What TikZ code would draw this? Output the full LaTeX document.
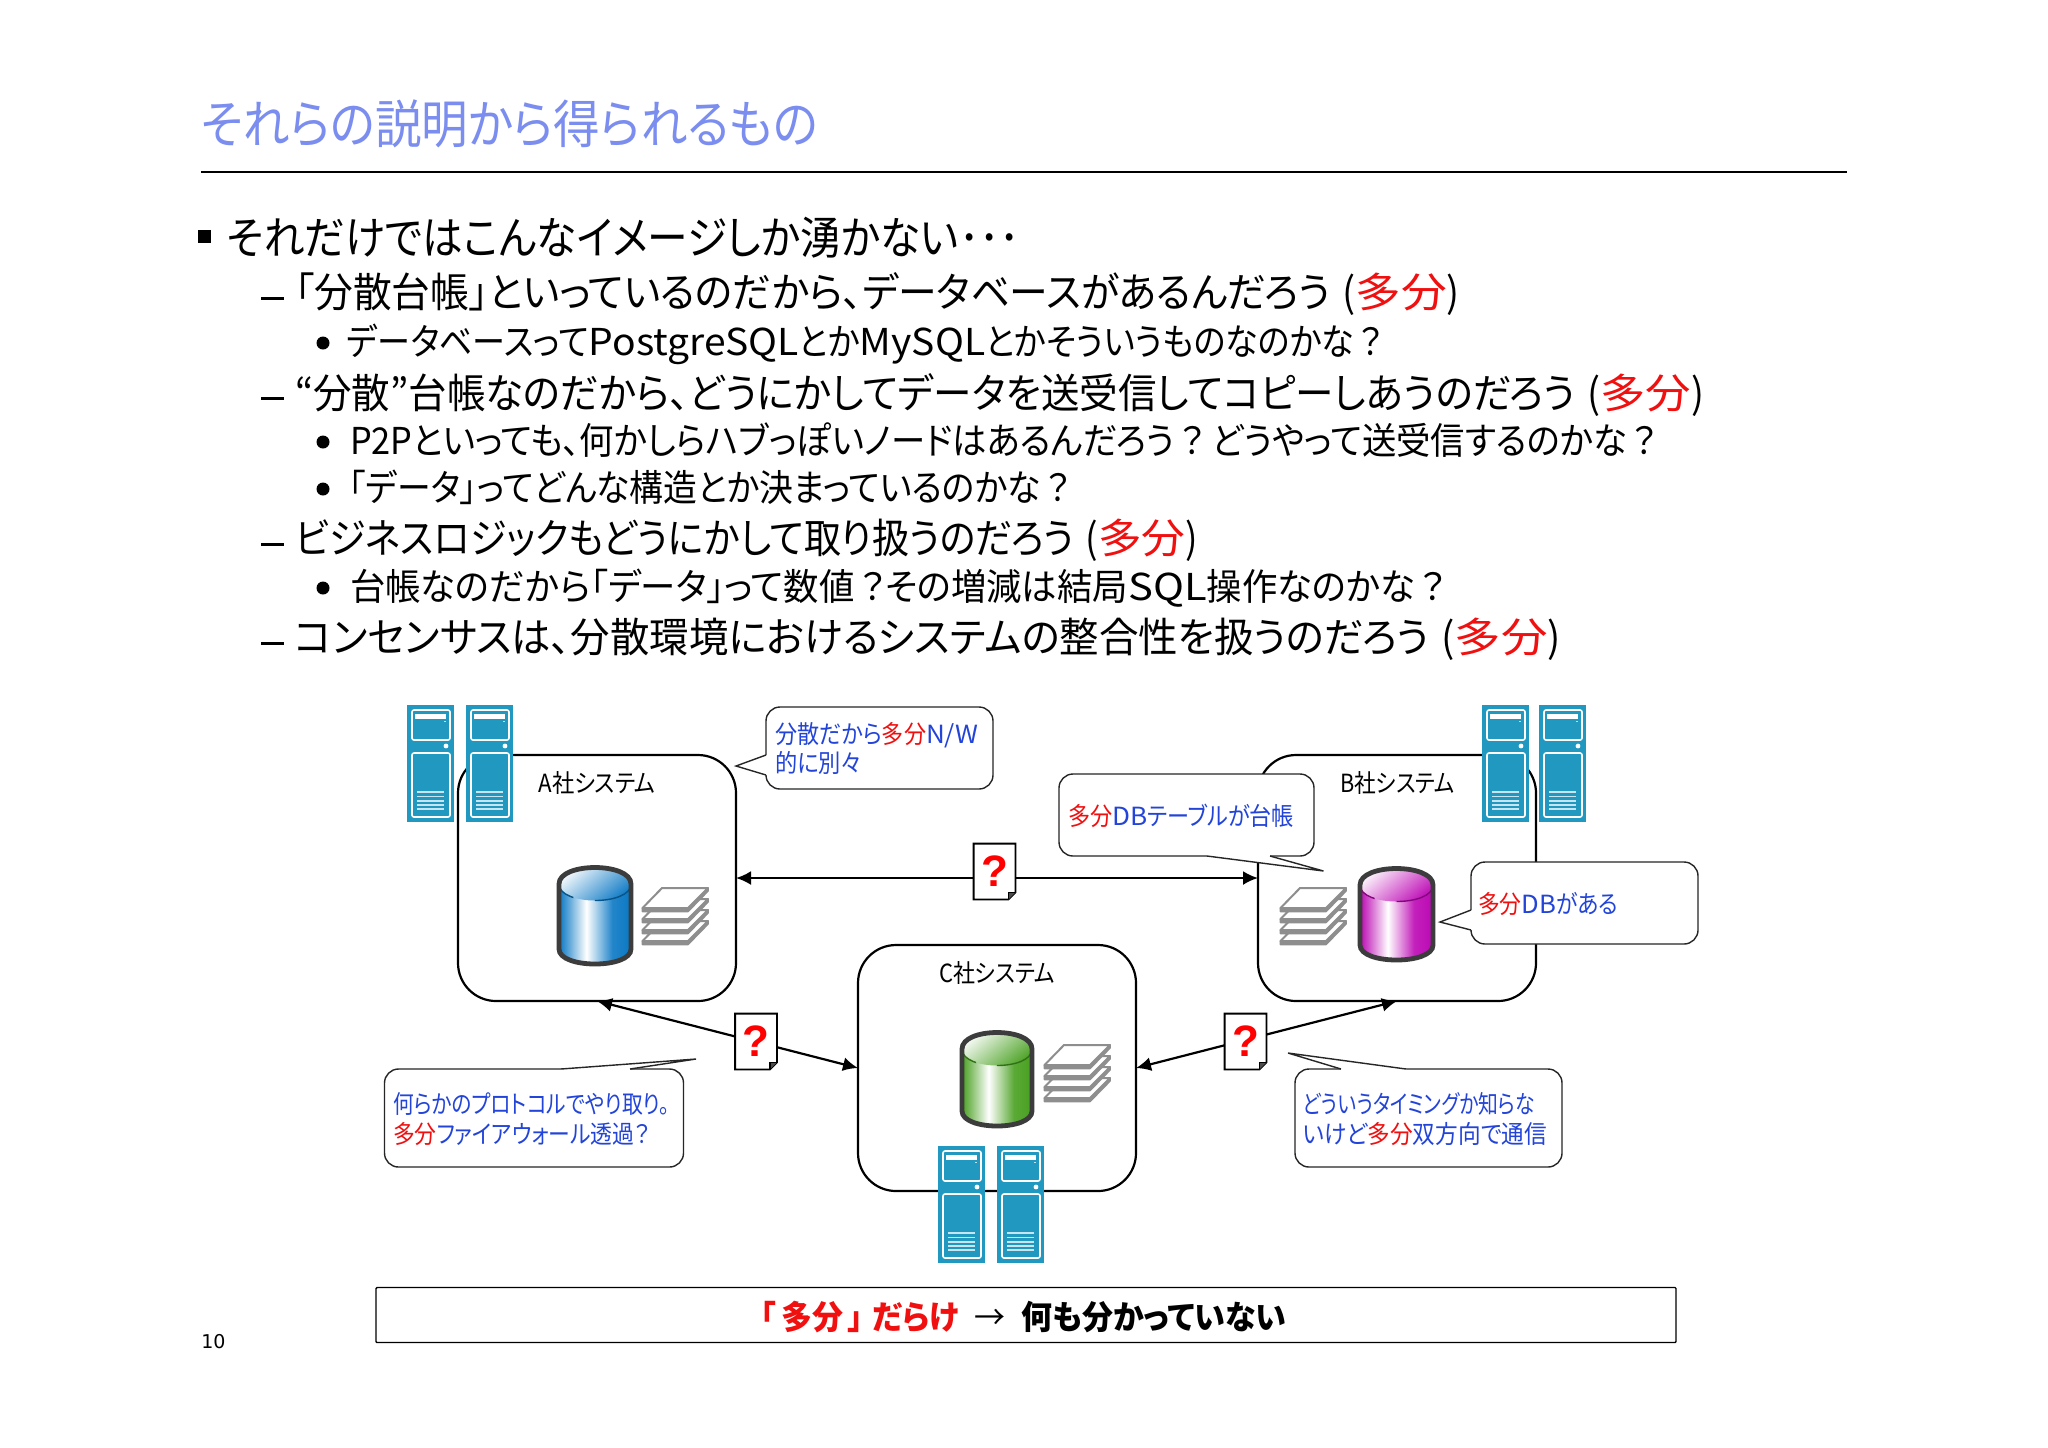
\documentclass[tikz,border=0pt]{standalone}
\usepackage{fontspec}
\usepackage{graphicx}
\usetikzlibrary{arrows.meta,calc}
\setmainfont[RawFeature=+palt]{Noto Sans CJK JP}
\newfontfamily\latinq{Liberation Sans}
\newfontfamily\pagefont{DejaVu Sans}
\definecolor{titleblue}{HTML}{7B8EF0}
\definecolor{noteblue}{HTML}{2244D8}
\definecolor{tabun}{HTML}{F01010}
\definecolor{serverblue}{HTML}{2098BF}
\definecolor{sheetgray}{HTML}{8E8E8E}
\definecolor{cylline}{HTML}{3C3C3C}
\definecolor{cylblue}{HTML}{0A78C4}
\definecolor{cylmag}{HTML}{BC08B4}
\definecolor{cylgreen}{HTML}{48A020}
\pgfdeclarehorizontalshading{bodyblue}{100bp}{color(0bp)=(cylblue); color(25bp)=(cylblue); color(31bp)=(cylblue!70); color(44bp)=(white); color(55bp)=(cylblue!55); color(62bp)=(cylblue!90); color(75bp)=(cylblue); color(100bp)=(cylblue)}
\pgfdeclarehorizontalshading{bodymag}{100bp}{color(0bp)=(cylmag); color(25bp)=(cylmag); color(31bp)=(cylmag!70); color(44bp)=(white); color(55bp)=(cylmag!55); color(62bp)=(cylmag!90); color(75bp)=(cylmag); color(100bp)=(cylmag)}
\pgfdeclarehorizontalshading{bodygreen}{100bp}{color(0bp)=(cylgreen); color(25bp)=(cylgreen); color(31bp)=(cylgreen!70); color(44bp)=(white); color(55bp)=(cylgreen!55); color(62bp)=(cylgreen!90); color(75bp)=(cylgreen); color(100bp)=(cylgreen)}
\newsavebox\fitbox
% name, x from, x to, y centre (px), size (pt), text
\newcommand\fitline[6]{%
  \sbox\fitbox{\pgfinterruptpicture\fontsize{#5}{#5}\selectfont #6\endpgfinterruptpicture}%
  \pgfmathsetmacro\fitr{(#3-#2)*0.5/\wd\fitbox}%
  \pgfmathsetmacro\fity{#4+0.80*#5}%
  \node[linetext] (#1) at (#2,\fity) {\scalebox{\fitr}[1]{\usebox\fitbox}};%
}
\newcommand\T[1]{\textcolor{tabun}{#1}}
\newcommand\Bl[1]{\textcolor{noteblue}{#1}}
\newcommand\Lt[1]{\scalebox{1.18}[1]{#1}}
\newcommand\Tab{\hspace{.3em}(\scalebox{1.18}[1]{\T{多分}})}
% name, x, y
\newcommand\serverpic[3]{%
  \node[serverbox] (#1) at (#2+23.5,#3+58.5) {};
  \begin{scope}[shift={(#2,#3)}]
    \draw[srvline,rounded corners=1pt] (5,5) rectangle (43,35);
    \fill[white] (8,9) rectangle (39,14);
    \fill[white!70!serverblue] (37,16) rectangle (39,17);
    \fill[white] (39,41) circle (2.4);
    \draw[srvline,rounded corners=1pt] (5,48) rectangle (43,112);
    \foreach \yy in {87,91.5,96,100,104}
      \draw[white!75!serverblue,line width=0.55pt] (10,\yy) -- (37,\yy);
  \end{scope}
}
% x0,x1,y0,y1,body shading,colour,name
\newcommand\cylpic[7]{%
  \coordinate (#7) at ({(#1+#2)/2},{(#3+#4)/2});
  \pgfmathsetmacro\xl{#1+3}\pgfmathsetmacro\xr{#2-3}
  \pgfmathsetmacro\xp{\xl+0.2*(\xr-\xl)}\pgfmathsetmacro\xq{\xl+0.5*(\xr-\xl)}
  \pgfmathsetmacro\yt{#3+20}\pgfmathsetmacro\yb{#4-17}
  \pgfmathsetmacro\ya{\yt-22}\pgfmathsetmacro\yc{\yt+22}\pgfmathsetmacro\yd{\yb+20}
  \path[shading=#5] (\xl,\yt) -- (\xl,\yb) .. controls (\xl,\yd) and (\xr,\yd) .. (\xr,\yb) -- (\xr,\yt) .. controls (\xr,\ya) and (\xl,\ya) .. (\xl,\yt) -- cycle;
  \path[left color=white,right color=#6,shading angle=40] (\xl,\yt) .. controls (\xl,\yc) and (\xr,\yc) .. (\xr,\yt) .. controls (\xr,\ya) and (\xl,\ya) .. (\xl,\yt) -- cycle;
  \begin{scope}
    \clip (\xl,\ya) rectangle (\xp,\yd);
    \draw[#6!70!black,line width=.7pt] (\xl,\yt) .. controls (\xl,\yc) and (\xr,\yc) .. (\xr,\yt);
  \end{scope}
  \begin{scope}
    \clip (\xq,\ya) rectangle (\xr,\yd);
    \draw[#6!70!black,line width=.7pt] (\xl,\yt) .. controls (\xl,\yc) and (\xr,\yc) .. (\xr,\yt);
  \end{scope}
  \draw[cylline,line width=2.4pt] (\xl,\yt) -- (\xl,\yb) .. controls (\xl,\yd) and (\xr,\yd) .. (\xr,\yb) -- (\xr,\yt) .. controls (\xr,\ya) and (\xl,\ya) .. (\xl,\yt) -- cycle;
}
% x, y
\newcommand\stackpic[2]{%
  \begin{scope}[shift={(#1,#2)}]
    \foreach \dd in {33,22,11,0} {
      \draw[sheetgray,fill=sheetgray,line width=.8pt,line join=round,shift={(0,\dd)}]
        (0.5,21) -- (0.5,24.5) -- (46,24.5) -- (66,4) -- (66,1) -- (46,21) -- cycle;
      \draw[sheetgray,fill=white,line width=1pt,line join=round,shift={(0,\dd)}]
        (0.5,21) -- (20,1) -- (66,1) -- (46,21) -- cycle;
    }
  \end{scope}
}
% name, x, y : document with a question mark
\newcommand\docpic[3]{%
  \node[docbox] (#1) at (#2,#3) {?};
  \draw[docline] (#1.north west) -- (#1.north east) -- ([yshift=3.5pt]#1.south east) -- ([xshift=-3.5pt]#1.south east) -- (#1.south west) -- cycle;
  \draw[docline,fill=black!70] ([yshift=3.5pt]#1.south east) -- ([xshift=-3.5pt,yshift=3.5pt]#1.south east) -- ([xshift=-3.5pt]#1.south east);
}
% name, x0, y0, x1, y1 : callout body
\newcommand\notebody[5]{%
  \pgfmathsetmacro\nw{(#4-#2)*0.5}\pgfmathsetmacro\nh{(#5-#3)*0.5}
  \node[notebox,minimum width=\nw pt,minimum height=\nh pt] (#1) at ({(#2+#4)/2},{(#3+#5)/2}) {};
}
% base 1, tip, base 2, inner 2, inner 1 : callout tail
\newcommand\notetail[5]{%
  \fill[white] #1 -- #2 -- #3 -- #4 -- #5 -- cycle;
  \draw[noteline,line join=miter] #1 -- #2 -- #3;
}
\tikzset{
  linetext/.style={anchor=base west,inner sep=0pt,outer sep=0pt},
  sysbox/.style={draw=black,line width=1.1pt,rounded corners=19pt,minimum width=139pt,minimum height=123pt,inner sep=0pt,outer sep=0pt},
  conn/.style={draw=black,line width=1.1pt,{Latex[length=7.5pt,width=7pt]}-{Latex[length=7.5pt,width=7pt]}},
  serverbox/.style={fill=serverblue,minimum width=23.5pt,minimum height=58.5pt,inner sep=0pt},
  srvline/.style={draw=white,line width=.8pt},
  docbox/.style={fill=white,minimum width=20.5pt,minimum height=27.5pt,inner sep=0pt,text=red,font=\latinq\bfseries\fontsize{22}{22}\selectfont},
  docline/.style={draw=black,line width=.9pt,line join=miter},
  noteline/.style={draw=black!85,line width=.7pt},
  notebox/.style={noteline,fill=white,rounded corners=7pt,inner sep=0pt,outer sep=0pt},
  bar/.style={draw=black,line width=.7pt,rounded corners=.5pt,fill=white,minimum width=650pt,minimum height=27.5pt,inner sep=0pt},
}
\begin{document}
\begin{tikzpicture}[x=0.5pt,y=-0.5pt]
\useasboundingbox (0,0) rectangle (2048,1447);
\fill[white] (0,0) rectangle (2048,1447);

% title
\fitline{title}{201}{818}{123}{26}{\textcolor{titleblue}{それらの説明から得られるもの}}
\coordinate (ruleL) at (201,172);
\coordinate (ruleR) at (1847,172);
\draw[black,line width=1pt] (ruleL) -- (ruleR);

% body text
\fill[black] (198,230) rectangle (211,243);
\fitline{l1}{227}{1020}{236}{22.5}{それだけではこんなイメージしか湧かない･･･}
\draw[line width=1.5pt] (261,298) -- (284,298);
\fitline{l2}{295}{1460}{291}{20.5}{「分散台帳」といっているのだから、データベースがあるんだろう\Tab}
\fill[black] (323,343) circle (6.5);
\fitline{l3}{347}{1383}{341}{18.5}{データベースって\Lt{PostgreSQL}とか\Lt{MySQL}とかそういうものなのかな\hspace{.15em}？}
\draw[line width=1.5pt] (261,398) -- (284,398);
\fitline{l4}{295}{1704}{392}{20.5}{“分散”台帳なのだから、どうにかしてデータを送受信してコピーしあうのだろう\Tab}
\fill[black] (323,442) circle (6.5);
\fitline{l5}{350}{1657}{440}{18.5}{P2Pといっても、何かしらハブっぽいノードはあるんだろう\hspace{.15em}？ どうやって送受信するのかな\hspace{.15em}？}
\fill[black] (323,489) circle (6.5);
\fitline{l6}{349}{1070}{487}{18.5}{「データ」ってどんな構造とか決まっているのかな\hspace{.15em}？}
\draw[line width=1.5pt] (261,544) -- (284,544);
\fitline{l7}{295}{1198}{537}{20.5}{ビジネスロジックもどうにかして取り扱うのだろう\Tab}
\fill[black] (323,588) circle (6.5);
\fitline{l8}{350}{1446}{586}{18.5}{台帳なのだから「データ」って数値\hspace{.15em}？その増減は結局\Lt{SQL}操作なのかな\hspace{.15em}？}
\draw[line width=1.5pt] (261,643) -- (284,643);
\fitline{l9}{295}{1561}{636}{20.5}{コンセンサスは、分散環境におけるシステムの整合性を扱うのだろう\Tab}

\begin{scope}[yshift=-0.5pt]
% systems
\node[sysbox] (A) at (597,877) {};
\node[sysbox] (B) at (1397,877) {};
\node[sysbox] (C) at (997,1067) {};
\fitline{la}{538.5}{655.5}{781}{12.5}{A社システム}
\fitline{lb}{1340}{1455}{781}{12.5}{B社システム}
\fitline{lc}{939}{1055}{971}{12.5}{C社システム}

% connectors
\draw[conn] (A.east) -- (B.west);
\draw[conn] (A.south) -- (C.west);
\draw[conn] (C.east) -- (B.south);
\docpic{docab}{994.5}{870.5}
\docpic{docac}{756}{1040.5}
\docpic{doccb}{1245.5}{1040.5}

% callouts
\notebody{nb1}{766}{706}{993}{788}
\notetail{(766,774)}{(736,765)}{(766,754)}{(768,754)}{(768,774)}
\fitline{n1a}{775}{978}{732}{12.5}{\Bl{分散だから}\T{多分}\Bl{\Lt{N/W}}}
\fitline{n1b}{775}{862}{761}{12.5}{\Bl{的に別々}}
\notebody{nb2}{384.5}{1068}{683.5}{1166}
\notetail{(561,1068)}{(696,1058)}{(630,1068)}{(630,1070)}{(561,1070)}
\fitline{n2a}{393}{670}{1102}{12.5}{\Bl{何らかのプロトコルでやり取り。}}
\fitline{n2b}{393}{650}{1132}{12.5}{\T{多分}\Bl{ファイアウォール透過？}}
\notebody{nb3}{1059}{773}{1314}{855}
\notetail{(1207,855)}{(1323.5,870)}{(1270,855)}{(1270,853)}{(1207,853)}
\fitline{n3}{1068}{1294}{814}{12.5}{\T{多分}\Bl{\Lt{DB}テーブルが台帳}}
\notebody{nb4}{1471}{861}{1698}{943}
\notetail{(1471,929)}{(1440,921)}{(1471,909)}{(1473,909)}{(1473,929)}
\fitline{n4}{1478}{1618}{902}{12.5}{\T{多分}\Bl{\Lt{DB}がある}}
\notebody{nb5}{1295}{1068}{1562}{1166}
\notetail{(1341,1068)}{(1288,1052)}{(1406,1068)}{(1406,1070)}{(1341,1070)}
\fitline{n5a}{1303}{1535}{1102}{12.5}{\Bl{どういうタイミングか知らな}}
\fitline{n5b}{1303}{1547}{1132}{12.5}{\Bl{いけど}\T{多分}\Bl{双方向で通信}}

% servers
\serverpic{sa1}{407}{704}
\serverpic{sa2}{466}{704}
\serverpic{sb1}{1482}{704}
\serverpic{sb2}{1539}{704}
\serverpic{sc1}{938}{1145}
\serverpic{sc2}{997}{1145}

% databases and ledgers
\cylpic{556}{634}{863}{965}{bodyblue}{cylblue}{dba}
\cylpic{1357}{1436}{864}{961}{bodymag}{cylmag}{dbb}
\cylpic{959}{1035}{1028}{1127}{bodygreen}{cylgreen}{dbc}
\stackpic{642}{886}
\stackpic{1280}{886}
\stackpic{1044}{1043}

% conclusion
\node[bar] (concl) at (1026,1314) {};
\fitline{ct}{761}{1286}{1315}{16.5}{\bfseries\T{「\hspace{.15em}多分\hspace{.15em}」\hspace{.3em}だらけ}\hspace{.5em}{\mdseries→}\hspace{.5em}何も分かっていない}
\end{scope}

% page number
\node[anchor=west,inner sep=0pt,font=\pagefont\fontsize{9.5}{9.5}\selectfont] (pageno) at (201,1342) {10};
\end{tikzpicture}
\end{document}
